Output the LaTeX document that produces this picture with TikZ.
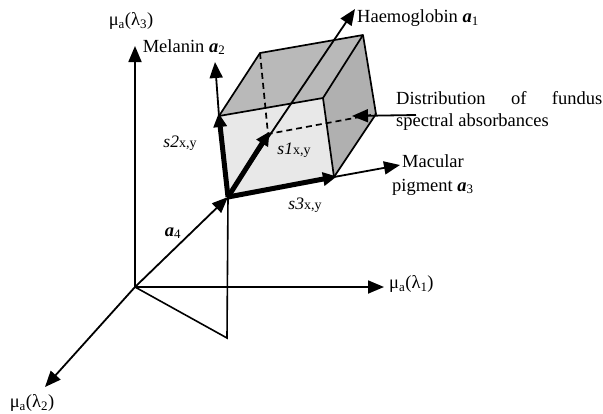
\documentclass[tikz,border=0pt]{standalone}
\usepackage{fontspec}
\setmainfont{Liberation Serif}
\usetikzlibrary{arrows.meta}
\begin{document}
\begin{tikzpicture}[x=1pt,y=-1pt,
  lbl/.style={inner sep=0pt,font=\fontsize{18.5}{21}\selectfont},
  slbl/.style={inner sep=0pt,font=\fontsize{17.5}{19}\selectfont},
  axis/.style={line width=1.8pt,-{Triangle[length=16pt,width=13pt]}},
  thin/.style={line width=1.6pt},
  svec/.style={line width=5pt,-{Triangle[length=14pt,width=13pt]},shorten >=-3pt},
  edge/.style={line width=1.7pt,line join=round},
  hid/.style={line width=1.7pt,dashed,dash pattern=on 6pt off 4pt}]
\useasboundingbox (0,0) rectangle (603,413);
% coordinates
\coordinate (O) at (135,287);
\coordinate (Ytip) at (135,46);
\coordinate (Xtip) at (384,287);
\coordinate (Ztip) at (45,387);
\coordinate (T) at (227,338);
\coordinate (P) at (228,197);
\coordinate (FBR) at (334,177);
\coordinate (FTL) at (219,116);
\coordinate (FTR) at (323,98);
\coordinate (BTL) at (260,53);
\coordinate (BTR) at (363,35);
\coordinate (BBR) at (376,114);
\coordinate (BBL) at (268,134);
\coordinate (Htip) at (355,9);
\coordinate (Mtip) at (215,62);
\coordinate (Ctip) at (400,165);
\coordinate (Dstart) at (416,115);
\coordinate (Dtip) at (352,116);
% faces
\fill[gray!18] (P) -- (FBR) -- (FTR) -- (FTL) -- cycle;
\fill[gray!55] (FTL) -- (FTR) -- (BTR) -- (BTL) -- cycle;
\fill[gray!62] (FTR) -- (BTR) -- (BBR) -- (FBR) -- cycle;
% hidden edges
\draw[hid] (BTL) -- (BBL) -- (BBR);
% visible edges
\draw[edge] (FTL) -- (FTR) -- (FBR);
\draw[edge] (FTL) -- (BTL) -- (BTR) -- (FTR);
\draw[edge] (BTR) -- (BBR) -- (FBR);
% axes
\draw[axis] (O) -- (Ytip);
\draw[axis] (O) -- (Xtip);
\draw[axis] (O) -- (Ztip);
\draw[thin] (O) -- (T) -- (P);
\draw[axis] (O) -- (P);
% component axes
\draw[axis] (P) -- (Htip);
\draw[axis] (FTL) -- (Mtip);
\draw[axis] (FBR) -- (Ctip);
\draw[axis] (Dstart) -- (Dtip);
% thick s vectors
\draw[svec] (P) -- (BBL);
\draw[svec] (P) -- (FTL);
\draw[svec] (P) -- (FBR);
% labels
\node[lbl] (l3) at (131,21) {μ\textsubscript{a}(λ\textsubscript{3})};
\node[lbl,anchor=west] (l1) at (389,284) {μ\textsubscript{a}(λ\textsubscript{1})};
\node[lbl] (l2) at (32,403) {μ\textsubscript{a}(λ\textsubscript{2})};
\node[lbl] (mel) at (184,47) {Melanin \textbf{\textit{a}}\textsubscript{2}};
\node[lbl,anchor=west] (hae) at (357,18) {Haemoglobin \textbf{\textit{a}}\textsubscript{1}};
\node[lbl,anchor=west,align=left] (dis) at (396,111) {\hbox to 206pt{Distribution\hfill of\hfill fundus}\\[1pt]spectral absorbances};
\node[lbl,anchor=west] (mac1) at (402,161) {Macular};
\node[lbl,anchor=west] (mac2) at (392,187) {pigment \textbf{\textit{a}}\textsubscript{3}};
\node[lbl] (a4) at (173,233) {\textbf{\textit{a}}\textsubscript{4}};
\node[slbl] (s2) at (180,143) {\textit{s2}{\fontsize{14}{16}\selectfont x,y}};
\node[slbl] (s1) at (294,150) {\textit{s1}{\fontsize{14}{16}\selectfont x,y}};
\node[slbl] (s3) at (305,205) {\textit{s3}{\fontsize{14}{16}\selectfont x,y}};
\end{tikzpicture}
\end{document}
